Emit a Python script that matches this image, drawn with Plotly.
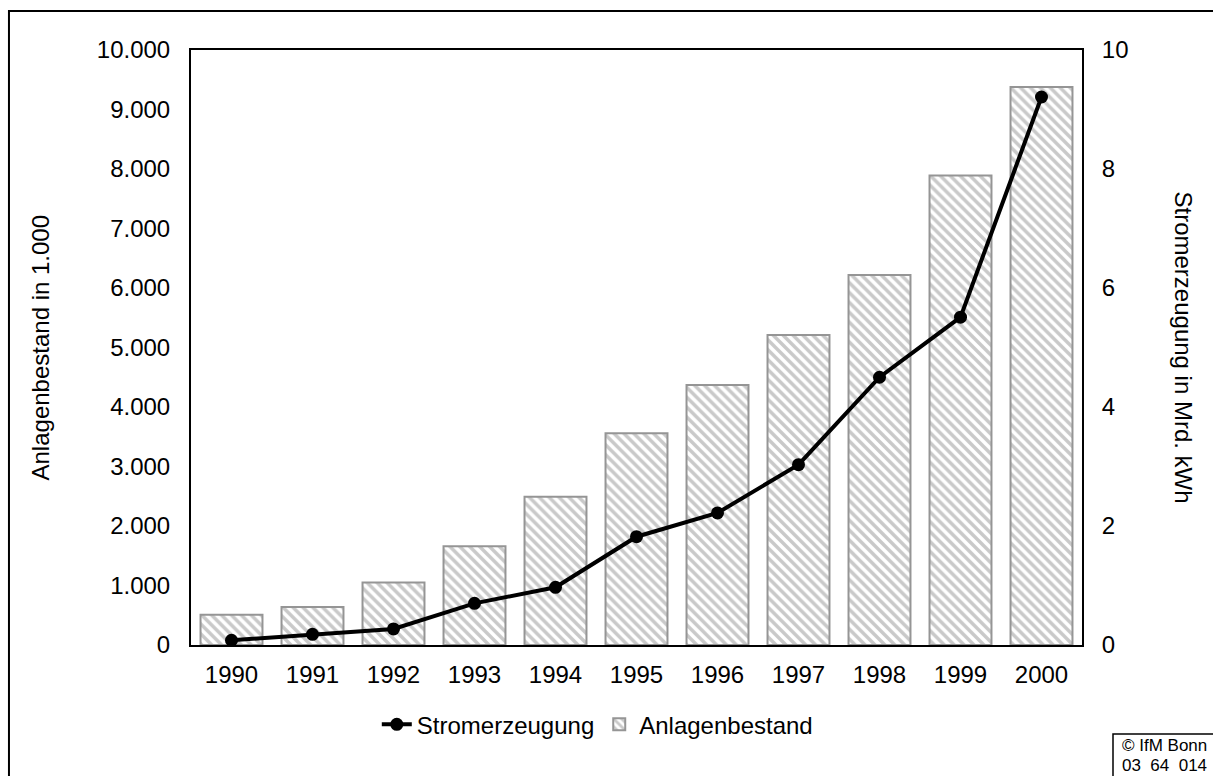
import plotly.graph_objects as go

years = [1990, 1991, 1992, 1993, 1994, 1995, 1996, 1997, 1998, 1999, 2000]
anlagenbestand = [510, 640, 1050, 1660, 2490, 3560, 4370, 5210, 6220, 7890, 9380]
stromerzeugung = [0.08, 0.18, 0.27, 0.70, 0.97, 1.82, 2.22, 3.03, 4.50, 5.51, 9.21]
left_ticks = list(range(0, 10001, 1000))
right_ticks = [0, 2, 4, 6, 8, 10]

FONT = "Liberation Sans, Arial, sans-serif"

fig = go.Figure()
fig.add_trace(go.Bar(
    x=years, y=anlagenbestand, name="Anlagenbestand", yaxis="y",
    legendrank=2,
    marker=dict(
        color="white",
        line=dict(color="#959595", width=2),
        pattern=dict(shape="\\", fgcolor="#939393", bgcolor="white", size=7, solidity=0.5),
    ),
))
fig.add_trace(go.Scatter(
    x=years, y=stromerzeugung, name="Stromerzeugung", yaxis="y2",
    legendrank=1,
    mode="lines+markers",
    line=dict(color="black", width=4),
    marker=dict(color="black", size=13),
))

fig.update_layout(
    width=1213, height=776,
    margin=dict(l=191, r=131, t=50, b=131),
    paper_bgcolor="white", plot_bgcolor="white",
    separators=",.",
    font=dict(family=FONT, size=24, color="black"),
    bargap=0.235,
    showlegend=True,
    legend=dict(orientation="h", x=0.456, xanchor="center", y=-0.134, yanchor="middle",
                font=dict(size=24), bgcolor="rgba(0,0,0,0)", itemwidth=30),
    xaxis=dict(range=[1989.5, 2000.5], tickvals=years, ticktext=[str(y) for y in years],
               showgrid=False, zeroline=False, showline=True, linecolor="black", linewidth=2,
               mirror=True, ticks="", ticklabelstandoff=7),
    yaxis=dict(range=[0, 10000], tickvals=left_ticks, tickformat=",.0f",
               showgrid=False, zeroline=False, showline=True, linecolor="black", linewidth=2,
               ticks="", ticklabelstandoff=14),
    yaxis2=dict(range=[0, 10], tickvals=right_ticks, overlaying="y", side="right",
                showgrid=False, zeroline=False, showline=True, linecolor="black", linewidth=2,
                ticks="", ticklabelstandoff=13),
    shapes=[
        dict(type="rect", xref="paper", yref="paper", x0=-0.2043, x1=1.16, y0=-0.26, y1=1.0655,
             line=dict(color="black", width=2), fillcolor="rgba(0,0,0,0)", layer="below"),
        dict(type="rect", xref="paper", yref="paper", x0=(1113-191)/891, x1=1.16,
             y0=-0.26, y1=(645-734)/595,
             line=dict(color="black", width=1.5), fillcolor="white"),
    ],
    annotations=[
        dict(text="Anlagenbestand in 1.000", xref="paper", yref="paper", x=(40-191)/891, y=0.5,
             textangle=-90, showarrow=False, font=dict(size=24), xanchor="center", yanchor="middle"),
        dict(text="Stromerzeugung in Mrd. kWh", xref="paper", yref="paper", x=(1183-191)/891, y=0.5,
             textangle=90, showarrow=False, font=dict(size=24), xanchor="center", yanchor="middle"),
        dict(text="© IfM Bonn", xref="paper", yref="paper", x=(1120-191)/891,
             y=(645-745)/595, xanchor="left", yanchor="middle", align="left", showarrow=False,
             font=dict(size=17)),
        dict(text="03  64  014", xref="paper", yref="paper", x=(1120-191)/891,
             y=(645-765)/595, xanchor="left", yanchor="middle", align="left", showarrow=False,
             font=dict(size=17)),
    ],
)

fig.write_html("out.html", config={"displayModeBar": False},
               post_script="document.body.style.margin='0px';document.body.style.overflow='hidden';")
